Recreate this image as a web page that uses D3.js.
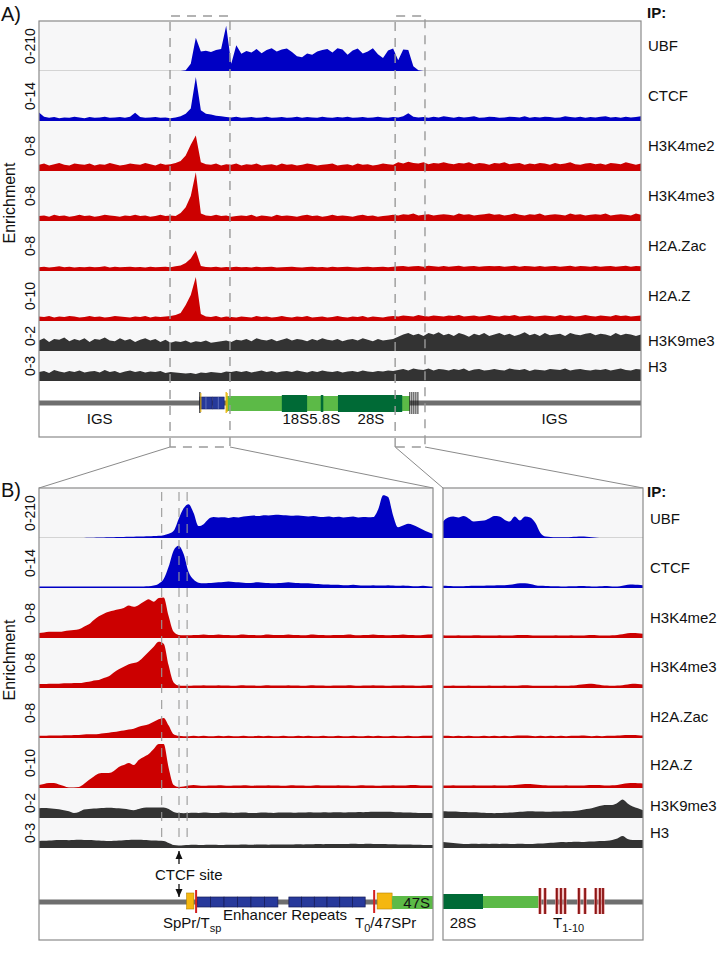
<!DOCTYPE html>
<html><head><meta charset="utf-8">
<script src="https://cdn.jsdelivr.net/npm/d3@7"></script>
<style>body{margin:0;background:#fff}svg{display:block}text{font-family:"Liberation Sans",Arial,sans-serif;fill:#111}</style>
</head><body><script>
// ---------- DATA ----------
const tracks = ["UBF","CTCF","H3K4me2","H3K4me3","H2A.Zac","H2A.Z","H3K9me3","H3"];
const trackRanges = ["0-210","0-14","0-8","0-8","0-8","0-10","0-2","0-3"];
const trackMax = [210,14,8,8,8,10,2,3];

// Panel A (whole rDNA repeat, 120 bins)
const aUBF = [0,0,0,0,0,0,0,0,0,0, 0,0,0,0,0,0,0,0,0,0, 0,0,0,0,0,0,0,0,0,3,
 30,140,82,85,80,88,92,190,30,108, 72,84,78,92,75,88,96,82,90,94, 80,62,58,74,68,82,88,92,78,96,
 90,68,86,94,74,82,96,70,55,86, 94,45,90,88,20,3,0,0,0,0, 0,0,0,0,0,0,0,0,0,0,
 0,0,0,0,0,0,0,0,0,0, 0,0,0,0,0,0,0,0,0,0, 0,0,0,0,0,0,0,0,0,0];
const aCTCF = [2.4,1.2,0.9,1.1,0.8,1.0,0.9,1.2,1.0,0.8, 1.1,0.9,1.0,1.2,0.9,1.0,1.1,0.9,1.2,2.3,
 1.1,0.9,1.0,1.1,0.9,1.0,0.8,1.0,1.3,2.0, 3.5,12.3,3.0,2.0,1.8,1.5,1.3,1.1,1.0,1.2,
 0.9,1.0,1.1,0.9,1.0,1.2,0.9,1.0,1.1,0.9, 1.0,1.2,0.9,1.1,1.0,0.9,1.2,1.0,0.9,1.1,
 1.0,1.2,0.9,1.0,1.1,0.9,1.0,1.2,1.0,0.9, 1.1,1.0,1.3,2.2,1.2,1.0,1.1,0.9,1.2,1.0,
 1.3,1.1,0.9,1.2,1.0,1.1,1.3,0.9,1.0,1.2, 1.1,0.9,1.0,1.2,1.1,1.0,1.3,0.9,1.1,1.0,
 1.2,1.1,0.9,1.0,1.3,1.1,1.0,1.2,0.9,1.1, 1.0,1.2,1.3,1.0,1.1,0.9,1.2,1.0,1.1,1.3];
const aH3K4me2 = [1.0,1.2,0.9,1.1,1.3,1.0,0.9,1.2,1.1,1.0, 1.2,0.9,1.1,1.0,1.3,1.1,0.9,1.0,1.2,1.1,
 1.0,1.3,1.1,0.9,1.2,1.0,1.1,1.3,1.6,2.5, 4.2,5.7,1.4,1.1,1.0,1.2,0.9,1.1,1.0,1.2,
 0.9,1.1,1.0,1.2,0.9,1.0,1.1,0.9,1.2,1.0, 1.1,0.9,1.0,1.2,1.1,0.9,1.0,1.1,1.2,0.9,
 1.0,1.1,0.9,1.2,1.0,1.1,0.9,1.0,1.2,1.1, 1.0,1.4,1.2,1.5,1.3,1.2,1.4,1.1,1.3,1.2,
 1.4,1.2,1.1,1.3,1.2,1.4,1.1,1.3,1.2,1.0, 1.3,1.2,1.4,1.1,1.2,1.3,1.0,1.2,1.1,1.3,
 1.2,1.0,1.3,1.1,1.2,1.4,1.1,1.0,1.2,1.3, 1.1,1.2,1.0,1.3,1.2,1.1,1.4,1.2,1.0,1.2];
const aH3K4me3 = [0.8,0.9,0.7,1.0,0.8,0.9,0.7,0.8,1.0,0.8, 0.9,0.7,0.8,1.0,0.9,0.8,0.7,0.9,0.8,1.0,
 0.8,0.9,0.7,0.8,1.0,0.8,0.9,0.8,1.3,2.2, 4.0,7.8,1.2,0.9,0.8,1.0,0.8,0.9,0.7,0.8,
 0.9,0.8,1.0,0.7,0.9,0.8,0.7,1.0,0.8,0.9, 0.8,0.7,0.9,1.0,0.8,0.9,0.7,0.8,1.0,0.8,
 0.9,0.8,0.7,0.9,1.0,0.8,0.9,0.7,0.8,0.9, 1.0,0.9,1.1,1.0,1.2,0.9,1.0,1.1,0.9,1.0,
 1.1,1.0,0.9,1.2,1.0,1.1,0.9,1.0,1.1,1.2, 1.0,1.1,0.9,1.0,1.2,1.0,0.9,1.1,1.0,1.2,
 0.9,1.0,1.1,1.0,0.9,1.2,1.0,1.1,0.9,1.0, 1.1,1.0,1.2,0.9,1.0,1.1,1.0,0.9,1.2,1.0];
const aH2AZac = [0.6,0.7,0.55,0.65,0.75,0.6,0.7,0.55,0.65,0.6, 0.7,0.6,0.65,0.75,0.55,0.7,0.6,0.65,0.7,0.6,
 0.65,0.55,0.7,0.6,0.65,0.7,0.6,0.75,0.9,1.3, 2.0,3.3,0.8,0.65,0.6,0.7,0.55,0.65,0.6,0.7,
 0.6,0.65,0.55,0.7,0.6,0.65,0.7,0.55,0.6,0.65, 0.7,0.6,0.55,0.65,0.7,0.6,0.65,0.55,0.7,0.6,
 0.65,0.7,0.6,0.55,0.65,0.7,0.6,0.65,0.7,0.6, 0.7,0.75,0.8,0.7,0.75,0.8,0.7,0.85,0.75,0.7,
 0.8,0.7,0.75,0.85,0.7,0.75,0.8,0.7,0.75,0.8, 0.75,0.8,0.7,0.75,0.85,0.7,0.8,0.75,0.7,0.8,
 0.7,0.75,0.8,0.7,0.75,0.85,0.7,0.8,0.75,0.7, 0.8,0.7,0.75,0.8,0.7,0.75,0.85,0.7,0.8,0.75];
const aH2AZ = [0.9,0.8,1.0,0.7,0.9,0.8,1.0,0.9,0.7,0.8, 1.0,0.8,0.9,0.7,0.8,1.0,0.9,0.8,0.7,0.9,
 0.8,1.0,0.7,0.9,0.8,0.9,1.0,1.2,1.6,3.2, 5.2,8.8,1.4,0.9,0.8,1.0,0.7,0.9,0.8,0.7,
 0.9,0.8,0.7,1.0,0.8,0.9,0.7,0.8,1.0,0.8, 0.7,0.9,0.8,1.0,0.7,0.8,0.9,0.7,0.8,1.0,
 0.8,0.7,0.9,0.8,1.0,0.7,0.9,0.8,0.7,0.9, 1.0,0.9,1.1,1.0,0.9,1.2,1.0,0.9,1.1,1.0,
 0.9,1.1,1.0,1.2,0.9,1.0,1.1,0.9,1.0,1.2, 1.0,0.9,1.1,1.0,1.2,0.9,1.0,1.1,0.9,1.0,
 1.1,1.0,0.9,1.2,1.0,1.1,0.9,1.0,1.2,1.0, 0.9,1.1,1.0,0.9,1.2,1.0,1.1,0.9,1.0,1.1];
const aH3K9me3 = [0.7,0.85,0.6,0.8,0.75,0.9,0.65,0.8,0.7,0.85, 0.6,0.8,0.75,0.9,0.7,0.65,0.85,0.7,0.8,0.6,
 0.75,0.85,0.7,0.8,0.6,0.75,0.55,0.65,0.6,0.7, 0.55,0.65,0.6,0.7,0.55,0.6,0.65,0.7,0.6,0.75,
 0.7,0.8,0.65,0.85,0.75,0.7,0.8,0.65,0.75,0.85, 0.7,0.8,0.75,0.65,0.8,0.7,0.85,0.75,0.7,0.8,
 0.65,0.75,0.8,0.7,0.85,0.75,0.65,0.8,0.7,0.75, 0.8,0.95,1.1,1.2,1.05,1.15,1.0,1.2,1.1,1.25,
 1.05,1.15,1.0,1.2,1.1,0.95,1.15,1.05,1.2,1.0, 1.1,1.2,1.05,1.15,1.0,1.1,1.25,1.05,1.15,1.0,
 1.2,1.05,1.1,1.15,1.0,1.2,1.1,1.05,1.15,1.2, 1.05,1.15,1.1,1.0,1.2,1.05,1.15,1.1,1.0,1.1];
const aH3 = [0.9,1.0,0.8,1.1,0.95,0.85,1.0,0.9,1.05,0.85, 0.95,1.0,0.85,1.1,0.9,1.0,0.8,0.95,1.05,0.9,
 1.0,0.85,0.95,0.9,1.0,0.8,0.9,0.85,0.8,0.75, 0.8,0.7,0.85,0.8,0.9,0.85,0.8,0.95,0.9,1.0,
 0.9,1.0,0.85,0.95,1.05,0.9,1.0,0.85,0.95,1.0, 0.9,1.05,0.95,0.85,1.0,0.9,1.05,0.95,0.9,1.0,
 0.85,0.95,1.0,0.9,1.05,0.95,0.9,1.0,0.95,1.05, 1.0,1.1,1.2,1.05,1.25,1.15,1.1,1.25,1.05,1.2,
 1.15,1.05,1.2,1.1,1.25,1.0,1.15,1.2,1.05,1.1, 1.2,1.1,1.05,1.25,1.15,1.1,1.2,1.0,1.15,1.1,
 1.05,1.2,1.15,1.1,1.25,1.05,1.15,1.2,1.1,1.05, 1.15,1.1,1.2,1.05,1.15,1.25,1.1,1.05,1.2,1.15];

// Panel B left (promoter / enhancer zoom, 80 bins)
const bUBF = [0,0,0,0,0,0,0,0,0,0.5, 1,1.5,2,2.5,3,3.5,4,4.5,5,5.5,
 6,6.5,7,8,9,12,18,30,80,125, 142,105,50,58,80,88,86,87,84,88,
 86,90,92,94,92,96,95,97,98,96, 95,93,94,92,90,92,89,88,90,87,
 89,86,88,90,86,88,87,88,120,180, 172,95,45,52,60,55,45,35,25,17];
const bCTCF = [0.4,0.4,0.4,0.4,0.4,0.4,0.4,0.4,0.4,0.4, 0.4,0.4,0.4,0.4,0.4,0.4,0.4,0.4,0.4,0.4,
 0.4,0.45,0.5,0.7,1.2,2.5,6.0,10.5,11.8,9.5, 4.5,2.4,1.5,1.3,1.4,1.5,1.6,1.7,1.8,1.7,
 1.6,1.5,1.4,1.5,1.6,1.5,1.4,1.3,1.4,1.5, 1.6,1.5,1.4,1.3,1.3,1.2,1.1,1.0,1.0,0.9,
 0.9,0.8,0.8,0.9,0.8,0.7,0.7,0.8,0.7,0.7, 0.8,0.7,0.6,0.7,0.6,0.5,0.5,0.6,0.5,0.4];
const bH3K4me2 = [0.8,0.9,1.0,1.0,1.0,1.1,1.2,1.3,1.4,1.8, 2.2,2.9,3.5,3.9,4.2,4.4,4.6,4.8,5.2,5.0,
 5.3,5.8,6.2,5.8,6.4,6.5,3.5,1.0,0.5,0.45, 0.45,0.5,0.5,0.55,0.5,0.5,0.55,0.5,0.5,0.45,
 0.5,0.55,0.5,0.5,0.45,0.5,0.55,0.5,0.5,0.5, 0.55,0.5,0.5,0.45,0.5,0.55,0.5,0.5,0.45,0.5,
 0.5,0.5,0.55,0.5,0.45,0.5,0.5,0.55,0.5,0.5, 0.45,0.5,0.5,0.55,0.5,0.5,0.45,0.5,0.55,0.6];
const bH3K4me3 = [0.65,0.65,0.7,0.7,0.7,0.75,0.75,0.8,0.8,0.9, 1.0,1.2,1.3,1.6,1.9,2.5,3.0,3.4,3.8,4.0,
 4.3,5.0,5.8,6.6,7.4,7.1,3.6,0.9,0.4,0.35, 0.35,0.4,0.4,0.45,0.4,0.4,0.45,0.4,0.4,0.35,
 0.4,0.45,0.4,0.4,0.35,0.4,0.45,0.4,0.4,0.4, 0.45,0.4,0.4,0.35,0.4,0.45,0.4,0.4,0.35,0.4,
 0.4,0.4,0.45,0.4,0.35,0.4,0.4,0.45,0.4,0.4, 0.35,0.4,0.4,0.45,0.4,0.4,0.35,0.4,0.45,0.5];
const bH2AZac = [0.35,0.35,0.4,0.4,0.4,0.45,0.45,0.5,0.5,0.55, 0.6,0.6,0.65,0.75,0.85,0.95,1.1,1.2,1.35,1.5,
 1.8,2.0,2.2,2.6,3.0,3.2,2.0,0.6,0.35,0.3, 0.3,0.35,0.3,0.35,0.3,0.3,0.35,0.3,0.35,0.3,
 0.3,0.35,0.3,0.3,0.35,0.3,0.35,0.3,0.3,0.35, 0.3,0.3,0.35,0.3,0.35,0.3,0.3,0.35,0.3,0.3,
 0.35,0.3,0.3,0.35,0.3,0.3,0.35,0.3,0.35,0.3, 0.3,0.35,0.3,0.3,0.35,0.3,0.3,0.35,0.35,0.4];
const bH2AZ = [0.6,0.8,1.0,1.0,0.7,0.4,0.1,0.1,0.2,0.8, 1.6,2.3,2.9,3.0,3.0,3.4,4.2,4.6,5.0,4.6,
 5.6,6.2,6.8,7.8,8.8,8.8,4.0,0.6,0.2,0.3, 0.5,0.6,0.5,0.45,0.5,0.5,0.55,0.5,0.45,0.5,
 0.5,0.55,0.5,0.45,0.5,0.5,0.55,0.5,0.5,0.45, 0.5,0.55,0.5,0.5,0.45,0.5,0.55,0.5,0.5,0.5,
 0.55,0.5,0.5,0.45,0.5,0.55,0.5,0.5,0.45,0.5, 0.5,0.55,0.5,0.5,0.55,0.6,0.55,0.5,0.5,0.45];
const bH3K9me3 = [0.65,0.66,0.65,0.62,0.58,0.52,0.45,0.34,0.4,0.56, 0.6,0.63,0.65,0.66,0.68,0.67,0.65,0.62,0.57,0.52,
 0.6,0.68,0.7,0.7,0.7,0.7,0.6,0.4,0.33,0.32, 0.33,0.35,0.34,0.36,0.35,0.33,0.34,0.36,0.35,0.34,
 0.35,0.36,0.34,0.33,0.35,0.36,0.35,0.34,0.36,0.37, 0.36,0.35,0.37,0.36,0.38,0.37,0.36,0.38,0.37,0.39,
 0.38,0.37,0.39,0.38,0.4,0.39,0.4,0.41,0.42,0.42, 0.41,0.4,0.38,0.37,0.36,0.35,0.34,0.33,0.33,0.32];
const bH3 = [0.7,0.72,0.75,0.78,0.8,0.8,0.78,0.8,0.82,0.8, 0.8,0.78,0.75,0.72,0.7,0.72,0.75,0.78,0.8,0.82,
 0.83,0.8,0.78,0.75,0.73,0.7,0.5,0.3,0.25,0.28, 0.3,0.32,0.3,0.31,0.33,0.32,0.3,0.31,0.33,0.32,
 0.33,0.34,0.32,0.33,0.35,0.34,0.33,0.35,0.34,0.36, 0.35,0.36,0.37,0.36,0.38,0.37,0.39,0.38,0.4,0.39,
 0.4,0.41,0.4,0.42,0.41,0.4,0.42,0.41,0.4,0.39, 0.38,0.37,0.36,0.35,0.34,0.33,0.32,0.31,0.3,0.3];

// Panel B right (28S end / terminators, 40 bins)
const cUBF = [69,86,90,86,92,82,69,71,73,82, 92,90,77,69,90,73,90,86,64,21,
 6,4,3,3,3,4,5,6,5,3, 1,0,0,0,0,0,0,0,0,0];
const cCTCF = [0.6,0.55,0.5,0.5,0.5,0.55,0.6,0.6,0.65,0.7, 0.7,0.75,0.8,0.9,1.1,1.3,1.3,1.1,0.8,0.6,
 0.55,0.5,0.5,0.45,0.45,0.5,0.5,0.55,0.5,0.45, 0.45,0.5,0.55,0.45,0.4,0.6,0.9,1.0,0.9,0.8];
const cH3K4me2 = [0.45,0.4,0.4,0.45,0.4,0.4,0.45,0.45,0.4,0.4, 0.4,0.45,0.4,0.4,0.45,0.5,0.5,0.45,0.4,0.4,
 0.4,0.4,0.45,0.4,0.4,0.45,0.4,0.4,0.45,0.5, 0.45,0.4,0.4,0.45,0.5,0.6,0.75,0.8,0.75,0.7];
const cH3K4me3 = [0.35,0.35,0.4,0.35,0.35,0.4,0.35,0.35,0.35,0.4, 0.35,0.35,0.4,0.35,0.35,0.4,0.45,0.4,0.35,0.35,
 0.35,0.35,0.4,0.35,0.35,0.4,0.45,0.55,0.65,0.7, 0.55,0.45,0.4,0.35,0.4,0.45,0.55,0.7,0.65,0.55];
const cH2AZac = [0.35,0.35,0.3,0.35,0.3,0.35,0.3,0.3,0.35,0.3, 0.35,0.3,0.35,0.3,0.35,0.4,0.4,0.35,0.3,0.35,
 0.3,0.35,0.3,0.35,0.3,0.35,0.35,0.4,0.35,0.3, 0.35,0.3,0.35,0.35,0.4,0.45,0.5,0.5,0.45,0.4];
const cH2AZ = [0.5,0.5,0.55,0.5,0.5,0.5,0.55,0.5,0.5,0.5, 0.55,0.5,0.5,0.55,0.6,0.7,0.8,0.8,0.7,0.6,
 0.55,0.5,0.5,0.5,0.55,0.5,0.5,0.5,0.55,0.6, 0.6,0.55,0.5,0.55,0.6,0.8,0.95,1.0,0.95,0.9];
const cH3K9me3 = [0.45,0.44,0.43,0.42,0.4,0.39,0.38,0.37,0.35,0.33, 0.32,0.33,0.35,0.37,0.39,0.41,0.43,0.45,0.44,0.43,
 0.42,0.42,0.43,0.44,0.45,0.45,0.48,0.53,0.6,0.65, 0.75,0.84,0.86,0.87,1.0,1.23,0.97,0.77,0.65,0.52];
const cH3 = [0.6,0.55,0.5,0.45,0.4,0.4,0.42,0.4,0.42,0.4, 0.42,0.4,0.42,0.41,0.4,0.42,0.41,0.4,0.43,0.45,
 0.48,0.52,0.55,0.6,0.58,0.6,0.62,0.6,0.63,0.65, 0.68,0.7,0.72,0.8,0.95,1.2,0.9,0.8,0.8,0.8];

// gene features (positions in the bin units of each panel)
const zoomWindows = [[25.9,37.75],[70.4,76.3]];           // panel A bins shown in B
const aRepeats = [[31.8,34.2],[34.3,36.6]];
const aPromoterMarks = [31.8,37.0];
const aTranscript = [37.0,73.3];
const aRRNA = [{name:"18S",s:48.0,e:53.0},{name:"5.8S",s:55.7,e:56.2},{name:"28S",s:59.1,e:71.8}];
const aTerminators = [73.3,73.7,74.1,74.5,74.9];
const bDashed = [24.6,28.07,29.7];
const bCTCFsite = 28.07;
const bSpPr = [29.6,31.05];
const bRedMarks = [31.5,67.2];
const bRepeatGroups = [[31.7,47.9],[50.1,65.4]];
const bRepeatUnits = 6;
const b47SPr = [67.8,70.8];
const b47S = [70.8,79];
const c28S = [0,7.8];
const cTranscript = [7.8,18.7];
const cTerminators = [18.9,19.9,22.2,23.0,23.8,26.5,27.7,29.8,30.6,31.2];

// ---------- DRAW ----------
const W=726,H=953;
const svg=d3.select("body").append("svg").attr("width",W).attr("height",H);
const trackH=[50,50,50,50,50,50,30,30];
const colors=["#0000c4","#0000c4","#cc0000","#cc0000","#cc0000","#cc0000","#333333","#333333"];
const font='"Liberation Sans",Arial,sans-serif';

function drawTracks(data,x0,x1,top,curve){
  const g=svg.append("g");
  const x=d3.scaleLinear().domain([0,data[0].length-1]).range([x0,x1]);
  let y0=top;
  data.forEach((vals,k)=>{
    const h=trackH[k];
    const y=d3.scaleLinear().domain([0,trackMax[k]]).range([y0+h,y0]).clamp(true);
    g.append("rect").attr("x",x0).attr("y",y0).attr("width",x1-x0).attr("height",h).attr("fill","#f7f7f8");
    g.append("line").attr("x1",x0).attr("x2",x1).attr("y1",y0+h-0.5).attr("y2",y0+h-0.5).attr("stroke","#d4d4d4");
    g.append("path").datum(vals)
      .attr("d",d3.area().x((d,i)=>x(i)).y0(y0+h).y1(d=>y(d)).curve(curve))
      .attr("fill",colors[k]);
    y0+=h;
  });
  return x;
}
function labels(top,xr,offs){
  let y0=top;
  trackH.forEach((h,k)=>{
    const yc=y0+h/2;
    svg.append("text").attr("transform",`translate(30,${yc}) rotate(-90)`).attr("text-anchor","middle")
      .attr("dy","0.36em").style("font-size","14px").text(trackRanges[k]);
    svg.append("text").attr("x",xr).attr("y",yc+offs[k]).attr("dy","0.36em").style("font-size","15px").text(tracks[k]);
    y0+=h;
  });
}

// ---- Panel A ----
const aTop=21, aL=39, aR=641;
const xA=drawTracks([aUBF,aCTCF,aH3K4me2,aH3K4me3,aH2AZac,aH2AZ,aH3K9me3,aH3],aL,aR,aTop,d3.curveLinear);
labels(aTop,648,[0,0,0,0,0,0,5,1]);
svg.append("text").attr("x",1).attr("y",21).style("font-size","20px").text("A)");
svg.append("text").attr("x",647).attr("y",18).style("font-size","15px").style("font-weight","bold").text("IP:");
svg.append("text").attr("transform","translate(9,203) rotate(-90)").attr("text-anchor","middle").attr("dy","0.36em").style("font-size","16px").text("Enrichment");
// gene diagram A
const gA=svg.append("g");
gA.append("rect").attr("x",aL).attr("y",400.5).attr("width",aR-aL).attr("height",5).attr("fill","#6e6e6e");
gA.append("rect").attr("x",xA(aTranscript[0])).attr("y",396).attr("width",xA(aTranscript[1])-xA(aTranscript[0])).attr("height",15).attr("fill","#5cba47");
aRRNA.forEach(r=>gA.append("rect").attr("x",xA(r.s)).attr("y",395).attr("width",Math.max(1.5,xA(r.e)-xA(r.s))).attr("height",17).attr("fill","#006a36"));
aRepeats.forEach(r=>{
  gA.append("rect").attr("x",xA(r[0])).attr("y",397).attr("width",xA(r[1])-xA(r[0])).attr("height",12).attr("fill","#26399a").attr("stroke","#1a1f5e").attr("stroke-width",0.6);
  gA.append("line").attr("x1",(xA(r[0])+xA(r[1]))/2).attr("x2",(xA(r[0])+xA(r[1]))/2).attr("y1",397).attr("y2",409).attr("stroke","#8090d0").attr("stroke-width",0.6);
});
aPromoterMarks.forEach((p,i)=>{
  gA.append("line").attr("x1",xA(p)).attr("x2",xA(p)).attr("y1",392).attr("y2",413).attr("stroke",i===0?"#222":"#e8b000").attr("stroke-width",1.2);
  gA.append("line").attr("x1",xA(p)+1).attr("x2",xA(p)+1).attr("y1",393).attr("y2",412).attr("stroke","#f0b800").attr("stroke-width",1);
});
aTerminators.forEach(p=>gA.append("line").attr("x1",xA(p)).attr("x2",xA(p)).attr("y1",392).attr("y2",414).attr("stroke","#111").attr("stroke-width",0.9));
const geneTxt=(x,y,t,anchor)=>svg.append("text").attr("x",x).attr("y",y).attr("text-anchor",anchor||"middle").style("font-size","15px").text(t);
geneTxt(xA(12),424,"IGS");
aRRNA.forEach(r=>geneTxt(r.name==="18S"?xA(r.s)+14:(r.name==="5.8S"?xA(r.s)+4:xA(r.s)+33),424,r.name));
geneTxt(xA(101.9),424,"IGS");
svg.append("rect").attr("x",aL).attr("y",aTop).attr("width",aR-aL).attr("height",437-aTop).attr("fill","none").attr("stroke","#8a8a8a").attr("stroke-width",1.2);

// zoom windows
const bTop=488, bL=39, bR=433, cL=443, cR=643, bBot=940;
zoomWindows.forEach(w=>{
  const xa=xA(w[0]), xb=xA(w[1]);
  svg.append("path").attr("d",`M${xa},447V16H${xb}V447H${xa}`).attr("fill","none").attr("stroke","#9a9a9a").attr("stroke-width",1.4).attr("stroke-dasharray","9,7");
});
[[zoomWindows[0][0],bL],[zoomWindows[0][1],bR],[zoomWindows[1][0],cL],[zoomWindows[1][1],cR]].forEach(p=>{
  svg.append("line").attr("x1",xA(p[0])).attr("y1",447).attr("x2",p[1]).attr("y2",bTop).attr("stroke","#8a8a8a").attr("stroke-width",1);
});

// ---- Panel B ----
const xB=drawTracks([bUBF,bCTCF,bH3K4me2,bH3K4me3,bH2AZac,bH2AZ,bH3K9me3,bH3],bL,bR,bTop,d3.curveMonotoneX);
const xC=drawTracks([cUBF,cCTCF,cH3K4me2,cH3K4me3,cH2AZac,cH2AZ,cH3K9me3,cH3],cL,cR,bTop,d3.curveMonotoneX);
labels(bTop,650,[6,5,5,4,4,2,3,0]);
svg.append("text").attr("x",1).attr("y",497).style("font-size","20px").text("B)");
svg.append("text").attr("x",647).attr("y",497).style("font-size","15px").style("font-weight","bold").text("IP:");
svg.append("text").attr("transform","translate(9,660) rotate(-90)").attr("text-anchor","middle").attr("dy","0.36em").style("font-size","16px").text("Enrichment");
bDashed.forEach(p=>svg.append("line").attr("x1",xB(p)).attr("x2",xB(p)).attr("y1",492).attr("y2",843).attr("stroke","#999").attr("stroke-width",1.1).attr("stroke-dasharray","9,7"));

// gene diagram B left
const gB=svg.append("g");
gB.append("rect").attr("x",bL).attr("y",899.5).attr("width",bR-bL).attr("height",5).attr("fill","#6e6e6e");
gB.append("rect").attr("x",cL).attr("y",899.5).attr("width",cR-cL).attr("height",5).attr("fill","#6e6e6e");
bRepeatGroups.forEach(r=>{
  const w=(xB(r[1])-xB(r[0]))/bRepeatUnits;
  d3.range(bRepeatUnits).forEach(j=>gB.append("rect").attr("x",xB(r[0])+j*w).attr("y",897).attr("width",w).attr("height",10).attr("fill","#27399b").attr("stroke","#151a55").attr("stroke-width",0.7));
});
[bSpPr,b47SPr].forEach(r=>gB.append("rect").attr("x",xB(r[0])).attr("y",893).attr("width",xB(r[1])-xB(r[0])).attr("height",16).attr("fill","#f5b70f").attr("stroke","#b58300").attr("stroke-width",0.6));
bRedMarks.forEach(p=>gB.append("line").attr("x1",xB(p)).attr("x2",xB(p)).attr("y1",890).attr("y2",913).attr("stroke","#d42020").attr("stroke-width",2));
gB.append("rect").attr("x",xB(b47S[0])).attr("y",896).attr("width",xB(b47S[1])-xB(b47S[0])).attr("height",13).attr("fill","#5cba47");
svg.append("text").attr("x",xB(b47S[1])-3).attr("y",908).attr("text-anchor","end").style("font-size","15px").text("47S");
// CTCF site arrows
const ax=xB(bCTCFsite);
const arrow=(y1,y2)=>{
  svg.append("line").attr("x1",ax).attr("x2",ax).attr("y1",y1).attr("y2",y2).attr("stroke","#111").attr("stroke-width",1.3);
  const d=y2<y1?-1:1;
  svg.append("path").attr("d",`M${ax},${y2}L${ax-3.5},${y2-d*8}L${ax+3.5},${y2-d*8}Z`).attr("fill","#111");
};
arrow(864,851); arrow(884,897);
geneTxt(ax-24,880,"CTCF site","start");
const t1=svg.append("text").attr("x",163).attr("y",928).style("font-size","15px");
t1.append("tspan").text("SpPr/T"); t1.append("tspan").attr("dy",4).style("font-size","11px").text("sp");
geneTxt(285,920,"Enhancer Repeats");
const t2=svg.append("text").attr("x",355).attr("y",928).style("font-size","15px");
t2.append("tspan").text("T"); t2.append("tspan").attr("dy",4).style("font-size","11px").text("0"); t2.append("tspan").attr("dy",-4).text("/47SPr");
// gene diagram B right
gB.append("rect").attr("x",xC(cTranscript[0])).attr("y",896).attr("width",xC(cTranscript[1])-xC(cTranscript[0])).attr("height",12).attr("fill","#5cba47");
gB.append("rect").attr("x",xC(c28S[0])).attr("y",894).attr("width",xC(c28S[1])-xC(c28S[0])).attr("height",15).attr("fill","#006a36");
cTerminators.forEach(p=>{
  gB.append("line").attr("x1",xC(p)).attr("x2",xC(p)).attr("y1",888).attr("y2",914).attr("stroke","#e09090").attr("stroke-width",3.2);
  gB.append("line").attr("x1",xC(p)).attr("x2",xC(p)).attr("y1",888).attr("y2",914).attr("stroke","#8b1414").attr("stroke-width",1.8);
});
geneTxt(463,928,"28S");
const t3=svg.append("text").attr("x",553).attr("y",928).style("font-size","15px");
t3.append("tspan").text("T"); t3.append("tspan").attr("dy",4).style("font-size","11px").text("1-10");
// boxes
[[bL,bR],[cL,cR]].forEach(b=>svg.append("rect").attr("x",b[0]).attr("y",bTop).attr("width",b[1]-b[0]).attr("height",bBot-bTop).attr("fill","none").attr("stroke","#8a8a8a").attr("stroke-width",1.2));
</script></body></html>
